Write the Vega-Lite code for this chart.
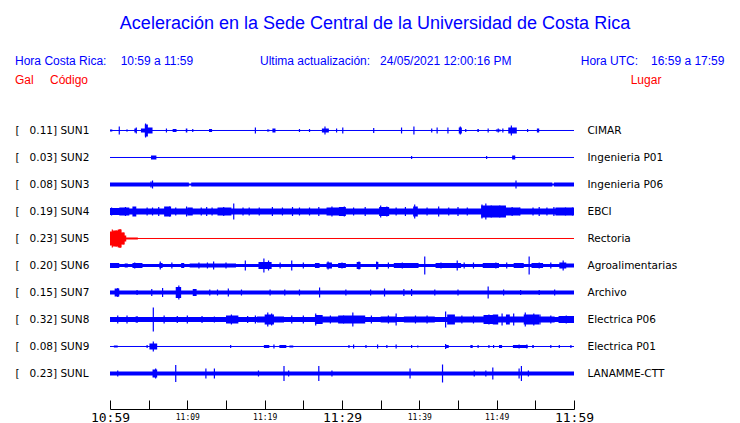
{
"$schema": "https://vega.github.io/schema/vega-lite/v6.json",
"width": 464, "height": 306,
"autosize": {"type": "none"},
"padding": {"left": 110, "top": 103, "right": 166, "bottom": 14},
"background": "white",
"title": {"text": "Aceleración en la Sede Central de la Universidad de Costa Rica", "font": "Liberation Sans", "fontSize": 18, "fontWeight": "normal", "color": "#0000FF", "anchor": "middle", "dx": 33, "baseline": "alphabetic", "offset": 8},
"datasets": {
"traces": [{"s":1,"code":"SUN1","gal":0.11,"place":"CIMAR"},{"s":2,"code":"SUN2","gal":0.03,"place":"Ingenieria P01"},{"s":3,"code":"SUN3","gal":0.08,"place":"Ingenieria P06"},{"s":4,"code":"SUN4","gal":0.19,"place":"EBCI"},{"s":5,"code":"SUN5","gal":0.23,"place":"Rectoria"},{"s":6,"code":"SUN6","gal":0.20,"place":"Agroalimentarias"},{"s":7,"code":"SUN7","gal":0.15,"place":"Archivo"},{"s":8,"code":"SUN8","gal":0.32,"place":"Electrica P06"},{"s":9,"code":"SUN9","gal":0.08,"place":"Electrica P01"},{"s":10,"code":"SUNL","gal":0.23,"place":"LANAMME-CTT"}],
"env": [
{"s":1,"t":0,"a":0.037},{"s":1,"t":0.3,"a":0},{"s":1,"t":2.1,"a":0.037},{"s":1,"t":2.3,"a":0},{"s":1,"t":3.15,"a":0.074},{"s":1,"t":3.4,"a":0},{"s":1,"t":4.0,"a":0.074},{"s":1,"t":4.5,"a":0.222},{"s":1,"t":4.9,"a":0.111},{"s":1,"t":5.5,"a":0},{"s":1,"t":8.1,"a":0.056},{"s":1,"t":8.6,"a":0},{"s":1,"t":9.8,"a":0.074},{"s":1,"t":10.0,"a":0},{"s":1,"t":12.8,"a":0.056},{"s":1,"t":13.2,"a":0},{"s":1,"t":20.3,"a":0.037},{"s":1,"t":20.6,"a":0},{"s":1,"t":21.0,"a":0.074},{"s":1,"t":21.4,"a":0},{"s":1,"t":27.4,"a":0.074},{"s":1,"t":28.3,"a":0},{"s":1,"t":45.1,"a":0.111},{"s":1,"t":45.5,"a":0},{"s":1,"t":47.5,"a":0.056},{"s":1,"t":47.7,"a":0},{"s":1,"t":49.9,"a":0.037},{"s":1,"t":50.5,"a":0},{"s":1,"t":51.5,"a":0.111},{"s":1,"t":52.6,"a":0},{"s":1,"t":55.2,"a":0.074},{"s":1,"t":55.5,"a":0},{"s":1,"t":60,"a":0},
{"s":2,"t":0,"a":0},{"s":2,"t":5.3,"a":0.074},{"s":2,"t":6.0,"a":0},{"s":2,"t":52.0,"a":0.074},{"s":2,"t":52.4,"a":0},{"s":2,"t":60,"a":0},
{"s":3,"t":0,"a":0.074},{"s":3,"t":10.2,"a":0.037},{"s":3,"t":10.5,"a":0.074},{"s":3,"t":57.2,"a":0.037},{"s":3,"t":57.4,"a":0.074},{"s":3,"t":60,"a":0.074},
{"s":4,"t":0,"a":0.13},{"s":4,"t":1.2,"a":0.148},{"s":4,"t":2.5,"a":0.111},{"s":4,"t":2.9,"a":0.185},{"s":4,"t":3.4,"a":0.111},{"s":4,"t":7.0,"a":0.185},{"s":4,"t":7.9,"a":0.111},{"s":4,"t":10.0,"a":0.148},{"s":4,"t":10.7,"a":0.111},{"s":4,"t":13.9,"a":0.148},{"s":4,"t":15.7,"a":0.111},{"s":4,"t":28.0,"a":0.148},{"s":4,"t":29.6,"a":0.167},{"s":4,"t":30.5,"a":0.111},{"s":4,"t":34.8,"a":0.167},{"s":4,"t":36.1,"a":0.111},{"s":4,"t":39.2,"a":0.185},{"s":4,"t":39.8,"a":0.111},{"s":4,"t":48.0,"a":0.222},{"s":4,"t":51.2,"a":0.148},{"s":4,"t":53.0,"a":0.111},{"s":4,"t":57.6,"a":0.148},{"s":4,"t":60,"a":0.148},
{"s":5,"t":0,"a":0.259},{"s":5,"t":0.4,"a":0.296},{"s":5,"t":1.0,"a":0.333},{"s":5,"t":1.5,"a":0.222},{"s":5,"t":1.9,"a":0.111},{"s":5,"t":2.1,"a":0.037},{"s":5,"t":3.6,"a":0},{"s":5,"t":60,"a":0},
{"s":6,"t":0,"a":0.093},{"s":6,"t":1.2,"a":0.056},{"s":6,"t":1.9,"a":0.074},{"s":6,"t":2.3,"a":0.056},{"s":6,"t":2.9,"a":0.093},{"s":6,"t":4.2,"a":0.056},{"s":6,"t":6.4,"a":0.093},{"s":6,"t":6.8,"a":0.056},{"s":6,"t":9.2,"a":0.093},{"s":6,"t":9.6,"a":0.056},{"s":6,"t":10.3,"a":0.074},{"s":6,"t":16.3,"a":0.056},{"s":6,"t":19.2,"a":0.13},{"s":6,"t":20.9,"a":0.056},{"s":6,"t":26.5,"a":0.093},{"s":6,"t":27.1,"a":0.056},{"s":6,"t":28.0,"a":0.111},{"s":6,"t":28.7,"a":0.056},{"s":6,"t":29.5,"a":0.093},{"s":6,"t":30.5,"a":0.056},{"s":6,"t":31.9,"a":0.13},{"s":6,"t":32.4,"a":0.056},{"s":6,"t":34.4,"a":0.13},{"s":6,"t":34.7,"a":0.056},{"s":6,"t":36.7,"a":0.093},{"s":6,"t":39.9,"a":0.056},{"s":6,"t":42.1,"a":0.093},{"s":6,"t":45.4,"a":0.056},{"s":6,"t":48.2,"a":0.093},{"s":6,"t":50.3,"a":0.056},{"s":6,"t":52.2,"a":0.093},{"s":6,"t":53.5,"a":0.056},{"s":6,"t":54.5,"a":0.093},{"s":6,"t":56.0,"a":0.056},{"s":6,"t":58.1,"a":0.111},{"s":6,"t":59.0,"a":0.074},{"s":6,"t":60,"a":0.074},
{"s":7,"t":0,"a":0.074},{"s":7,"t":0.6,"a":0.148},{"s":7,"t":1.2,"a":0.074},{"s":7,"t":8.5,"a":0.204},{"s":7,"t":9.2,"a":0.074},{"s":7,"t":10.7,"a":0.13},{"s":7,"t":11.2,"a":0.074},{"s":7,"t":60,"a":0.074},
{"s":8,"t":0,"a":0.093},{"s":8,"t":3.3,"a":0.111},{"s":8,"t":3.6,"a":0.093},{"s":8,"t":15.0,"a":0.148},{"s":8,"t":16.6,"a":0.093},{"s":8,"t":19.0,"a":0.111},{"s":8,"t":20.0,"a":0.185},{"s":8,"t":21.2,"a":0.111},{"s":8,"t":22.5,"a":0.093},{"s":8,"t":26.5,"a":0.167},{"s":8,"t":27.5,"a":0.111},{"s":8,"t":29.5,"a":0.148},{"s":8,"t":33.0,"a":0.093},{"s":8,"t":35.0,"a":0.111},{"s":8,"t":37.0,"a":0.093},{"s":8,"t":38.0,"a":0.111},{"s":8,"t":42.0,"a":0.093},{"s":8,"t":43.6,"a":0.185},{"s":8,"t":44.6,"a":0.111},{"s":8,"t":48.3,"a":0.167},{"s":8,"t":49.5,"a":0.185},{"s":8,"t":50.2,"a":0.111},{"s":8,"t":51.2,"a":0.185},{"s":8,"t":51.7,"a":0.111},{"s":8,"t":53.5,"a":0.185},{"s":8,"t":55.5,"a":0.111},{"s":8,"t":57.5,"a":0.093},{"s":8,"t":58.0,"a":0.13},{"s":8,"t":60,"a":0.13},
{"s":9,"t":0,"a":0},{"s":9,"t":0.5,"a":0.037},{"s":9,"t":1.0,"a":0},{"s":9,"t":5.1,"a":0.111},{"s":9,"t":6.1,"a":0},{"s":9,"t":19.9,"a":0.056},{"s":9,"t":20.6,"a":0},{"s":9,"t":21.9,"a":0.056},{"s":9,"t":22.8,"a":0},{"s":9,"t":23.2,"a":0.037},{"s":9,"t":23.7,"a":0},{"s":9,"t":43.4,"a":0.056},{"s":9,"t":43.8,"a":0},{"s":9,"t":46.6,"a":0.056},{"s":9,"t":46.9,"a":0},{"s":9,"t":50.3,"a":0.056},{"s":9,"t":50.7,"a":0},{"s":9,"t":52.1,"a":0.056},{"s":9,"t":54.0,"a":0},{"s":9,"t":54.6,"a":0.056},{"s":9,"t":54.8,"a":0},{"s":9,"t":60,"a":0},
{"s":10,"t":0,"a":0.074},{"s":10,"t":5.5,"a":0.148},{"s":10,"t":6.1,"a":0.074},{"s":10,"t":60,"a":0.074}
],
"spk": [
{"s":1,"t":1.2,"a":0.148},{"s":1,"t":3.4,"a":0.111},{"s":1,"t":4.6,"a":0.259},{"s":1,"t":7.3,"a":0.074},{"s":1,"t":10.7,"a":0.056},{"s":1,"t":18.8,"a":0.111},{"s":1,"t":24.5,"a":0.056},{"s":1,"t":25.8,"a":0.056},{"s":1,"t":27.8,"a":0.148},{"s":1,"t":29.3,"a":0.074},{"s":1,"t":30.1,"a":0.111},{"s":1,"t":34.1,"a":0.093},{"s":1,"t":37.7,"a":0.111},{"s":1,"t":39.3,"a":0.148},{"s":1,"t":41.6,"a":0.074},{"s":1,"t":42.3,"a":0.111},{"s":1,"t":43.7,"a":0.111},{"s":1,"t":45.3,"a":0.148},{"s":1,"t":46.0,"a":0.056},{"s":1,"t":48.9,"a":0.074},{"s":1,"t":50.2,"a":0.074},{"s":1,"t":50.8,"a":0.074},{"s":1,"t":51.9,"a":0.185},{"s":1,"t":54.0,"a":0.056},
{"s":2,"t":39.0,"a":0.056},{"s":2,"t":48.7,"a":0.056},
{"s":3,"t":5.3,"a":0.111},{"s":3,"t":5.5,"a":0.148},{"s":3,"t":52.5,"a":0.148},
{"s":4,"t":0.2,"a":0.148},{"s":4,"t":2.0,"a":0.167},{"s":4,"t":4.8,"a":0.148},{"s":4,"t":5.5,"a":0.148},{"s":4,"t":6.3,"a":0.167},{"s":4,"t":7.7,"a":0.185},{"s":4,"t":8.5,"a":0.148},{"s":4,"t":9.9,"a":0.185},{"s":4,"t":11.8,"a":0.148},{"s":4,"t":12.5,"a":0.167},{"s":4,"t":13.2,"a":0.148},{"s":4,"t":14.7,"a":0.167},{"s":4,"t":16.0,"a":0.296},{"s":4,"t":17.2,"a":0.148},{"s":4,"t":18.0,"a":0.148},{"s":4,"t":19.3,"a":0.148},{"s":4,"t":21.0,"a":0.167},{"s":4,"t":22.3,"a":0.148},{"s":4,"t":23.6,"a":0.167},{"s":4,"t":24.5,"a":0.148},{"s":4,"t":25.8,"a":0.148},{"s":4,"t":27.0,"a":0.167},{"s":4,"t":28.7,"a":0.185},{"s":4,"t":30.3,"a":0.185},{"s":4,"t":31.5,"a":0.148},{"s":4,"t":33.0,"a":0.167},{"s":4,"t":35.0,"a":0.222},{"s":4,"t":35.8,"a":0.185},{"s":4,"t":37.0,"a":0.148},{"s":4,"t":38.2,"a":0.167},{"s":4,"t":39.4,"a":0.259},{"s":4,"t":41.0,"a":0.148},{"s":4,"t":42.5,"a":0.185},{"s":4,"t":43.8,"a":0.148},{"s":4,"t":45.0,"a":0.167},{"s":4,"t":46.2,"a":0.148},{"s":4,"t":48.1,"a":0.259},{"s":4,"t":48.6,"a":0.296},{"s":4,"t":49.3,"a":0.222},{"s":4,"t":50.4,"a":0.222},{"s":4,"t":51.1,"a":0.185},{"s":4,"t":52.0,"a":0.167},{"s":4,"t":53.0,"a":0.148},{"s":4,"t":54.7,"a":0.148},{"s":4,"t":55.5,"a":0.167},{"s":4,"t":56.5,"a":0.148},{"s":4,"t":57.4,"a":0.167},{"s":4,"t":58.9,"a":0.148},{"s":4,"t":59.8,"a":0.148},
{"s":5,"t":0.3,"a":0.333},{"s":5,"t":0.8,"a":0.296},{"s":5,"t":1.3,"a":0.352},{"s":5,"t":1.7,"a":0.222},
{"s":6,"t":3.2,"a":0.111},{"s":6,"t":6.5,"a":0.148},{"s":6,"t":8.0,"a":0.111},{"s":6,"t":11.5,"a":0.111},{"s":6,"t":12.6,"a":0.111},{"s":6,"t":13.4,"a":0.148},{"s":6,"t":15.0,"a":0.111},{"s":6,"t":17.5,"a":0.185},{"s":6,"t":19.9,"a":0.259},{"s":6,"t":20.5,"a":0.185},{"s":6,"t":22.0,"a":0.111},{"s":6,"t":23.5,"a":0.185},{"s":6,"t":25.0,"a":0.111},{"s":6,"t":28.2,"a":0.148},{"s":6,"t":30.0,"a":0.111},{"s":6,"t":32.2,"a":0.148},{"s":6,"t":34.5,"a":0.148},{"s":6,"t":36.0,"a":0.111},{"s":6,"t":37.8,"a":0.111},{"s":6,"t":40.7,"a":0.333},{"s":6,"t":42.8,"a":0.111},{"s":6,"t":44.9,"a":0.185},{"s":6,"t":45.8,"a":0.111},{"s":6,"t":47.0,"a":0.111},{"s":6,"t":49.9,"a":0.111},{"s":6,"t":51.3,"a":0.111},{"s":6,"t":54.2,"a":0.333},{"s":6,"t":55.5,"a":0.111},{"s":6,"t":57.0,"a":0.111},{"s":6,"t":58.6,"a":0.185},
{"s":7,"t":1.0,"a":0.167},{"s":7,"t":3.5,"a":0.093},{"s":7,"t":5.4,"a":0.13},{"s":7,"t":6.8,"a":0.167},{"s":7,"t":8.9,"a":0.259},{"s":7,"t":11.0,"a":0.13},{"s":7,"t":12.9,"a":0.111},{"s":7,"t":13.9,"a":0.111},{"s":7,"t":15.3,"a":0.148},{"s":7,"t":17.0,"a":0.111},{"s":7,"t":20.7,"a":0.111},{"s":7,"t":22.6,"a":0.111},{"s":7,"t":24.5,"a":0.111},{"s":7,"t":27.1,"a":0.185},{"s":7,"t":30.5,"a":0.111},{"s":7,"t":33.7,"a":0.111},{"s":7,"t":35.5,"a":0.148},{"s":7,"t":38.0,"a":0.13},{"s":7,"t":39.0,"a":0.13},{"s":7,"t":42.0,"a":0.111},{"s":7,"t":45.0,"a":0.111},{"s":7,"t":48.9,"a":0.222},{"s":7,"t":50.9,"a":0.111},{"s":7,"t":53.1,"a":0.093},{"s":7,"t":55.5,"a":0.093},{"s":7,"t":57.5,"a":0.111},
{"s":8,"t":1.0,"a":0.148},{"s":8,"t":2.2,"a":0.148},{"s":8,"t":3.5,"a":0.111},{"s":8,"t":5.6,"a":0.444},{"s":8,"t":7.0,"a":0.148},{"s":8,"t":8.7,"a":0.13},{"s":8,"t":10.0,"a":0.148},{"s":8,"t":11.9,"a":0.13},{"s":8,"t":13.5,"a":0.111},{"s":8,"t":15.7,"a":0.185},{"s":8,"t":17.8,"a":0.13},{"s":8,"t":18.8,"a":0.148},{"s":8,"t":20.4,"a":0.259},{"s":8,"t":20.9,"a":0.222},{"s":8,"t":23.5,"a":0.148},{"s":8,"t":25.0,"a":0.148},{"s":8,"t":26.6,"a":0.222},{"s":8,"t":28.5,"a":0.148},{"s":8,"t":30.2,"a":0.148},{"s":8,"t":31.4,"a":0.259},{"s":8,"t":33.8,"a":0.148},{"s":8,"t":36.0,"a":0.148},{"s":8,"t":37.0,"a":0.222},{"s":8,"t":39.5,"a":0.148},{"s":8,"t":41.0,"a":0.148},{"s":8,"t":43.4,"a":0.296},{"s":8,"t":45.5,"a":0.148},{"s":8,"t":47.0,"a":0.148},{"s":8,"t":49.0,"a":0.185},{"s":8,"t":50.7,"a":0.222},{"s":8,"t":52.2,"a":0.222},{"s":8,"t":53.7,"a":0.259},{"s":8,"t":54.8,"a":0.222},{"s":8,"t":55.6,"a":0.185},{"s":8,"t":57.0,"a":0.148},{"s":8,"t":59.0,"a":0.148},
{"s":9,"t":4.8,"a":0.056},{"s":9,"t":5.6,"a":0.185},{"s":9,"t":15.6,"a":0.056},{"s":9,"t":21.2,"a":0.074},{"s":9,"t":30.9,"a":0.056},{"s":9,"t":31.5,"a":0.074},{"s":9,"t":33.1,"a":0.056},{"s":9,"t":34.6,"a":0.074},{"s":9,"t":35.8,"a":0.056},{"s":9,"t":37.0,"a":0.074},{"s":9,"t":39.0,"a":0.056},{"s":9,"t":39.8,"a":0.037},{"s":9,"t":43.4,"a":0.093},{"s":9,"t":47.6,"a":0.056},{"s":9,"t":49.0,"a":0.056},{"s":9,"t":49.6,"a":0.056},{"s":9,"t":52.9,"a":0.074},{"s":9,"t":53.9,"a":0.074},{"s":9,"t":57.0,"a":0.056},{"s":9,"t":58.1,"a":0.056},{"s":9,"t":59.6,"a":0.056},
{"s":10,"t":1.0,"a":0.111},{"s":10,"t":5.9,"a":0.185},{"s":10,"t":8.5,"a":0.315},{"s":10,"t":12.4,"a":0.185},{"s":10,"t":13.5,"a":0.185},{"s":10,"t":19.2,"a":0.111},{"s":10,"t":22.5,"a":0.278},{"s":10,"t":23.1,"a":0.111},{"s":10,"t":27.0,"a":0.278},{"s":10,"t":28.7,"a":0.111},{"s":10,"t":38.8,"a":0.185},{"s":10,"t":43.0,"a":0.333},{"s":10,"t":47.1,"a":0.111},{"s":10,"t":48.6,"a":0.111},{"s":10,"t":49.5,"a":0.222},{"s":10,"t":52.9,"a":0.185},{"s":10,"t":53.2,"a":0.278},{"s":10,"t":54.1,"a":0.111}
],
"hdr": [
{"t":-12.28,"v":-1.585,"txt":"Hora Costa Rica:","k":"b"},
{"t":1.38,"v":-1.585,"txt":"10:59 a 11:59","k":"b"},
{"t":19.40,"v":-1.585,"txt":"Ultima actualización:","k":"b"},
{"t":34.92,"v":-1.585,"txt":"24/05/2021 12:00:16 PM","k":"b"},
{"t":60.87,"v":-1.585,"txt":"Hora UTC:","k":"b"},
{"t":69.96,"v":-1.585,"txt":"16:59 a 17:59","k":"b"},
{"t":-12.28,"v":-0.87,"txt":"Gal","k":"r"},
{"t":-7.76,"v":-0.87,"txt":"Código","k":"r"},
{"t":67.33,"v":-0.87,"txt":"Lugar","k":"r"}
]
},
"layer": [
{
"data": {"name": "env"},
"mark": {"type": "errorband", "interpolate": "step-after", "band": {"opacity": 1}, "borders": false},
"encoding": {
"x": {"field": "t", "type": "quantitative", "title": null, "scale": {"domain": [0, 60], "nice": false, "zero": false},
"axis": {"orient": "top", "offset": -306, "values": [0,5,10,15,20,25,30,35,40,45,50,55,60], "labels": false, "domainColor": "black", "tickColor": "black", "tickSize": 9, "grid": false, "domainWidth": 1, "tickWidth": 1}},
"y": {"field": "s", "type": "quantitative", "title": null, "axis": null, "scale": {"domain": [-0.0185, 11.315], "reverse": true, "nice": false, "zero": false}},
"yError": {"field": "a"},
"color": {"field": "s", "type": "nominal", "legend": null, "scale": {"domain": [1,2,3,4,5,6,7,8,9,10], "range": ["#0000FF","#0000FF","#0000FF","#0000FF","#FF0000","#0000FF","#0000FF","#0000FF","#0000FF","#0000FF"]}}
}
},
{
"data": {"name": "spk"},
"mark": {"type": "errorbar", "thickness": 1.2},
"encoding": {
"x": {"field": "t", "type": "quantitative", "title": null, "axis": null},
"y": {"field": "s", "type": "quantitative", "title": null, "axis": null},
"yError": {"field": "a"},
"color": {"field": "s", "type": "nominal", "legend": null, "scale": {"domain": [1,2,3,4,5,6,7,8,9,10], "range": ["#0000FF","#0000FF","#0000FF","#0000FF","#FF0000","#0000FF","#0000FF","#0000FF","#0000FF","#0000FF"]}}
}
},
{
"data": {"name": "traces"},
"mark": {"type": "rule", "strokeWidth": 1},
"encoding": {
"x": {"datum": 0, "type": "quantitative", "title": null,
"axis": {"orient": "bottom", "values": [0,5,10,15,20,25,30,35,40,45,50,55,60], "labelExpr": "['10:59','','11:09','','11:19','','11:29','','11:39','','11:49','','11:59'][round(datum.value/5)]", "labelFont": "DejaVu Sans Mono", "labelFontSize": {"condition": {"test": "datum.value % 30 === 0", "value": 13}, "value": 8}, "labelColor": "black", "domain": false, "ticks": false, "tickSize": 0, "labelPadding": 8, "labelFlush": false, "labelOverlap": false, "grid": false, "labelBaseline": "middle"}},
"x2": {"datum": 60},
"y": {"field": "s", "type": "quantitative", "title": null,
"axis": {"orient": "left", "values": [1,2,3,4,5,6,7,8,9,10], "labelExpr": "['', '[\u00a0\u00a0\u00a00.11] SUN1', '[\u00a0\u00a0\u00a00.03] SUN2', '[\u00a0\u00a0\u00a00.08] SUN3', '[\u00a0\u00a0\u00a00.19] SUN4', '[\u00a0\u00a0\u00a00.23] SUN5', '[\u00a0\u00a0\u00a00.20] SUN6', '[\u00a0\u00a0\u00a00.15] SUN7', '[\u00a0\u00a0\u00a00.32] SUN8', '[\u00a0\u00a0\u00a00.08] SUN9', '[\u00a0\u00a0\u00a00.23] SUNL'][datum.value]", "labelAlign": "left", "labelPadding": 95, "ticks": false, "tickSize": 0, "domain": false, "grid": false, "labelFont": "DejaVu Sans", "labelFontSize": 10.5, "labelColor": "black", "labelBaseline": "middle", "labelOverlap": false, "labelFlush": false}},
"color": {"field": "s", "type": "nominal", "legend": null, "scale": {"domain": [1,2,3,4,5,6,7,8,9,10], "range": ["#0000FF","#0000FF","#0000FF","#0000FF","#FF0000","#0000FF","#0000FF","#0000FF","#0000FF","#0000FF"]}}
}
},
{
"data": {"name": "hdr"},
"mark": {"type": "text", "align": "left", "baseline": "middle", "font": "Liberation Sans", "fontSize": 12},
"encoding": {
"x": {"field": "t", "type": "quantitative", "title": null, "axis": null},
"y": {"field": "v", "type": "quantitative", "title": null,
"axis": {"orient": "right", "values": [1,2,3,4,5,6,7,8,9,10], "labelExpr": "['', 'CIMAR', 'Ingenieria P01', 'Ingenieria P06', 'EBCI', 'Rectoria', 'Agroalimentarias', 'Archivo', 'Electrica P06', 'Electrica P01', 'LANAMME-CTT'][datum.value]", "labelAlign": "left", "labelPadding": 13, "ticks": false, "tickSize": 0, "domain": false, "grid": false, "labelFont": "DejaVu Sans", "labelFontSize": 10.5, "labelColor": "black", "labelBaseline": "middle", "labelOverlap": false, "labelFlush": false}},
"text": {"field": "txt"},
"color": {"field": "k", "type": "nominal", "legend": null, "scale": {"domain": ["b", "r"], "range": ["#0000FF", "#FF0000"]}}
}
}
],
"resolve": {"axis": {"y": "independent", "x": "independent"}, "scale": {"color": "independent"}},
"config": {"view": {"stroke": null}}
}
